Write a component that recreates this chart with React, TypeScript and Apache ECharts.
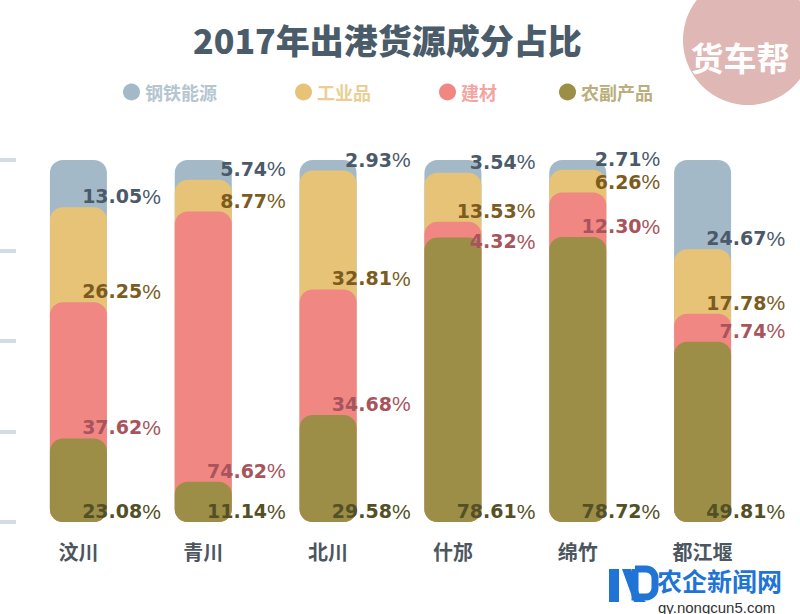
import React, { useEffect, useRef } from "react";
import * as echarts from "echarts";

const categories = ["汶川", "青川", "北川", "什邡", "绵竹", "都江堰"];
const seriesNames = ["钢铁能源", "工业品", "建材", "农副产品"];
const steel = [13.05, 5.74, 2.93, 3.54, 2.71, 24.67];
const industrial = [26.25, 8.77, 32.81, 13.53, 6.26, 17.78];
const building = [37.62, 74.62, 34.68, 4.32, 12.3, 7.74];
const farm = [23.08, 11.14, 29.58, 78.61, 78.72, 49.81];
const yTicks = [0, 25, 50, 75, 100];

const barColors = ["#a3b9c7", "#e7c377", "#f08783", "#9c8e47"];
const labelColors = ["#4a5a6a", "#7b5c1e", "#a8545c", "#545026"];
const legendColors = ["#b5c6d1", "#e9cf94", "#f3a5a2", "#b9ae7c"];
const legendLefts = [123, 295, 439, 559];

export default function App() {
  const ref = useRef<HTMLDivElement>(null);
  useEffect(() => {
    if (!ref.current) return;
    const chart = echarts.init(ref.current, null, { renderer: "svg" });
    const parts = [steel, industrial, building, farm];
    // cumulative tops (from the bottom) for each visible rounded bar
    const cumulative = parts.map((_, si) =>
      categories.map((__, ci) => {
        let s = 0;
        for (let k = si; k < parts.length; k++) s += parts[k][ci];
        return +s.toFixed(2);
      })
    );
    const visible = parts.map((_, si) => ({
      name: seriesNames[si],
      type: "bar",
      data: cumulative[si],
      barWidth: 57,
      barGap: "-100%",
      itemStyle: { color: barColors[si], borderRadius: 13 },
      silent: true,
      z: 2 + si,
    }));
    const labelSeries = [3, 2, 1, 0].map((si) => ({
      name: seriesNames[si] + "标签",
      type: "bar",
      stack: "labels",
      data: parts[si],
      barWidth: 57,
      barGap: "-100%",
      itemStyle: { color: "rgba(0,0,0,0)" },
      silent: true,
      z: 10,
      labelLayout: (params: any) => {
        const r = params.rect;
        const right = Math.max(r.x, r.x + r.width);
        const bottom = Math.max(r.y, r.y + r.height);
        const h = Math.abs(r.height);
        // thin inner segments put their label just under their bottom edge
        const y = si !== 0 && h < 20 ? bottom + 4 : bottom - 11;
        return {
          x: right + 54,
          y,
          align: "right",
          verticalAlign: "middle",
        };
      },
      label: {
        show: true,
        position: "insideBottomRight",
        formatter: (p: any) => `{n|${Number(p.value).toFixed(2)}}{p|%}`,
        rich: {
          n: {
            fontFamily: "DejaVu Sans",
            fontWeight: "bold",
            fontSize: 19,
            lineHeight: 15,
            color: labelColors[si],
          },
          p: {
            fontFamily: "Liberation Sans",
            fontWeight: "normal",
            fontSize: 21,
            lineHeight: 15,
            color: labelColors[si],
          },
        },
      },
    }));
    chart.setOption({
      animation: false,
      title: {
        text: "2017年出港货源成分占比",
        left: 193,
        top: 22,
        padding: 0,
        textStyle: {
          fontFamily: "Noto Sans CJK SC",
          fontWeight: 900,
          fontSize: 34,
          color: "#4a5b69",
        },
      },
      legend: seriesNames.map((n, i) => ({
        data: [n],
        left: legendLefts[i],
        top: 83,
        padding: 0,
        icon: "circle",
        itemWidth: 17,
        itemHeight: 17,
        itemGap: 5,
        selectedMode: false,
        textStyle: {
          fontFamily: "Noto Sans CJK SC",
          fontWeight: "bold",
          fontSize: 18,
          color: legendColors[i],
          padding: [0, 0, 0, 0],
        },
      })),
      grid: { left: 16, right: 35, top: 160, bottom: 92 },
      xAxis: {
        type: "category",
        data: categories,
        axisLine: { show: false },
        axisTick: { show: false },
        axisLabel: {
          margin: 19,
          fontFamily: "Noto Sans CJK SC",
          fontWeight: "bold",
          fontSize: 20,
          lineHeight: 20,
          color: "#4b565f",
        },
      },
      yAxis: {
        type: "value",
        min: yTicks[0],
        max: yTicks[yTicks.length - 1],
        interval: yTicks[1] - yTicks[0],
        axisLine: { show: false },
        axisLabel: { show: false },
        splitLine: { show: false },
        axisTick: {
          show: true,
          length: 16,
          lineStyle: { color: "#d3dde3", width: 4 },
        },
      },
      graphic: [
        {
          type: "circle",
          shape: { cx: 748, cy: 40, r: 65 },
          style: { fill: "#dfb7b4" },
          z: 1,
        },
        {
          type: "text",
          x: 740,
          y: 57,
          style: {
            text: "货车帮",
            fill: "#ffffff",
            fontFamily: "Noto Sans CJK SC",
            fontWeight: "bold",
            fontSize: 33,
            textAlign: "center",
            textVerticalAlign: "middle",
          },
          z: 2,
        },
        {
          type: "polygon",
          shape: { points: [[609, 569], [619, 569], [619, 602], [609, 602]] },
          style: { fill: "#1f74d6" },
        },
        {
          type: "polygon",
          shape: { points: [[622, 569], [631, 569], [640, 596], [646, 602], [634, 602]] },
          style: { fill: "#1f74d6" },
        },
        {
          type: "rect",
          shape: { x: 635, y: 569, width: 20, height: 28, r: [0, 9, 9, 0] },
          style: { fill: "none", stroke: "#1f74d6", lineWidth: 7 },
        },
        {
          type: "text",
          x: 657,
          y: 580,
          style: {
            text: "农企新闻网",
            fill: "#1f74d6",
            fontFamily: "Noto Sans CJK SC",
            fontWeight: "bold",
            fontSize: 25,
            lineHeight: 24,
            textVerticalAlign: "middle",
          },
        },
        {
          type: "text",
          x: 658,
          y: 607,
          style: {
            text: "qy.nongcun5.com",
            fill: "#333333",
            fontFamily: "Liberation Sans",
            fontSize: 15,
            lineHeight: 14,
            textVerticalAlign: "middle",
          },
        },
      ],
      series: [...visible, ...labelSeries],
    });
    return () => chart.dispose();
  }, []);
  return (
    <div
      ref={ref}
      style={{ position: "fixed", left: 0, top: 0, width: 800, height: 614, background: "#ffffff" }}
    />
  );
}
